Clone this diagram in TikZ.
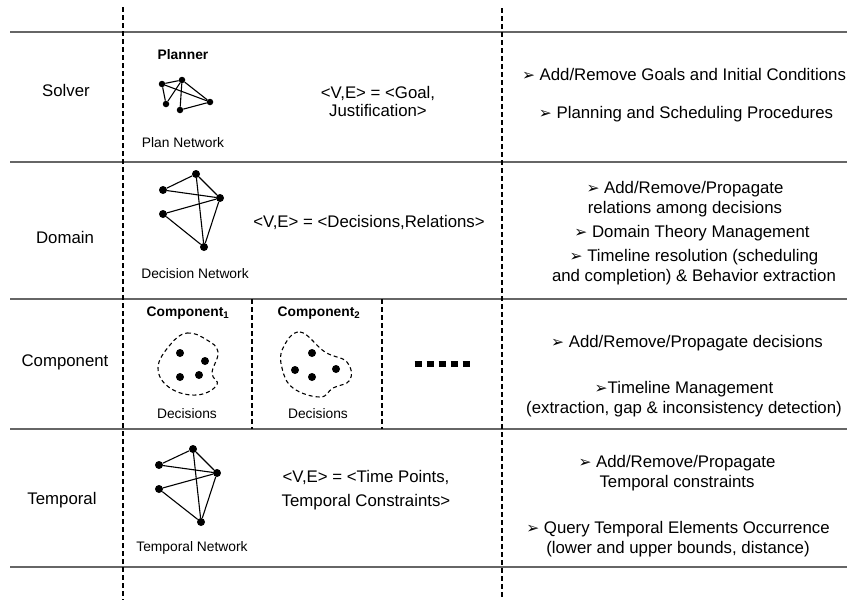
\documentclass[tikz,border=0pt]{standalone}
\usepackage{fontspec}
\setmainfont{Liberation Sans}
\newfontfamily\dejavu{DejaVu Sans}
\newcommand{\arrbullet}{{\dejavu\fontsize{15.5}{15.5}\selectfont\symbol{"27A2}}}

\begin{document}
\begin{tikzpicture}[x=1pt, y=-1pt,
  txt/.style={font=\fontsize{16.8}{20.5}\selectfont, align=center, inner sep=0pt},
  small/.style={font=\fontsize{13.8}{16}\selectfont, inner sep=0pt},
  ttl/.style={font=\bfseries\fontsize{13.8}{16}\selectfont, inner sep=0pt},
  dot/.style={circle, fill=black, inner sep=0pt, minimum size=8pt},
  edge/.style={line width=1.1pt},
  rowline/.style={draw=black!60, line width=1.6pt},
  colline/.style={dash pattern=on 5pt off 3pt, line width=1.1pt},
  blob/.style={dash pattern=on 4pt off 3pt, line width=1.1pt}]
\useasboundingbox (0,0) rectangle (847,600);

% table rules
\foreach \y in {32,162,299,429,567}
  \draw[rowline] (10,\y) -- (847,\y);
\draw[colline] (123,7) -- (123,600);
\draw[colline] (502,8) -- (502,600);
\draw[colline] (252,299) -- (252,429);
\draw[colline] (382,299) -- (382,429);

% layer names
\node[txt] (solver) at (66,90) {Solver};
\node[txt] (domain) at (65,237) {Domain};
\node[txt] (component) at (65,362) {Component};
\node[txt] (temporal) at (62,500) {Temporal};

% solver layer
\node[ttl] (planner) at (183,55) {Planner};
\node[dot, minimum size=6.5pt] (p1) at (162,84) {};
\node[dot, minimum size=6.5pt] (p2) at (182,80) {};
\node[dot, minimum size=6.5pt] (p3) at (210,102) {};
\node[dot, minimum size=6.5pt] (p4) at (166,104) {};
\node[dot, minimum size=6.5pt] (p5) at (180,110) {};
\foreach \a/\b in {p1/p2, p1/p3, p2/p3, p1/p4, p4/p2, p2/p5, p5/p3}
  \draw[edge] (\a) -- (\b);
\node[small] (plannet) at (183,143) {Plan Network};
\node[txt, font=\fontsize{16.8}{18}\selectfont] (goal) at (378,101) {<V,E> = <Goal,\\ Justification>};
\node[txt] (addgoals) at (684,74) {\arrbullet\ Add/Remove Goals and Initial Conditions};
\node[txt] (planning) at (686,114) {\arrbullet\ Planning and Scheduling Procedures};

% domain layer
\node[dot] (d1) at (196,174) {};
\node[dot] (d2) at (163,190) {};
\node[dot] (d3) at (220,198) {};
\node[dot] (d4) at (163,214) {};
\node[dot] (d5) at (204,247) {};
\foreach \a/\b in {d2/d1, d2/d3, d1/d3, d1/d5, d4/d3, d4/d5, d3/d5}
  \draw[edge] (\a) -- (\b);
\node[small] (decnet) at (195,274) {Decision Network};
\node[txt] (relations) at (369,222) {<V,E> = <Decisions,Relations>};
\node[txt] (propagate) at (685,199) {\arrbullet\ Add/Remove/Propagate\\ relations among decisions};
\node[txt] (theory) at (692,233) {\arrbullet\ Domain Theory Management};
\node[txt] (resolution) at (694,267) {\arrbullet\ Timeline resolution (scheduling\\ and completion) \& Behavior extraction};

% component layer
\node[ttl] (comp1) at (188,313) {Component\textsubscript{1}};
\node[ttl] (comp2) at (319,313) {Component\textsubscript{2}};
\draw[blob] plot[smooth cycle, tension=0.7] coordinates {(170,345) (187,333) (207,340) (218,352) (212,373) (217,385) (197,395) (170,388) (158,368)};
\draw[blob] plot[smooth cycle, tension=0.7] coordinates {(283,348) (300,332) (325,352) (347,362) (350,380) (333,388) (320,397) (293,388) (282,368)};
\node[dot] (c1) at (180,353) {};
\node[dot] (c2) at (205,361) {};
\node[dot] (c3) at (180,377) {};
\node[dot] (c4) at (199,375) {};
\node[dot] (c5) at (312,353) {};
\node[dot] (c6) at (295,370) {};
\node[dot] (c7) at (312,377) {};
\node[dot] (c8) at (336,369) {};
\node[small] (dec1) at (187,414) {Decisions};
\node[small] (dec2) at (318,414) {Decisions};
\draw[line width=6.5pt, dash pattern=on 7pt off 5pt] (414.5,364) -- (472,364);
\node[txt] (propdec) at (687,343) {\arrbullet\ Add/Remove/Propagate decisions};
\node[txt] (timeline) at (684,399) {\arrbullet Timeline Management\\ (extraction, gap \& inconsistency detection)};

% temporal layer
\node[dot] (t1) at (193,449) {};
\node[dot] (t2) at (159,465) {};
\node[dot] (t3) at (217,473) {};
\node[dot] (t4) at (159,489) {};
\node[dot] (t5) at (201,522) {};
\foreach \a/\b in {t2/t1, t2/t3, t1/t3, t1/t5, t4/t3, t4/t5, t3/t5}
  \draw[edge] (\a) -- (\b);
\node[small] (tempnet) at (192,548) {Temporal Network};
\node[txt, font=\fontsize{16.8}{24}\selectfont] (timepts) at (366,490) {<V,E> = <Time Points,\\ Temporal Constraints>};
\node[txt] (propconst) at (677,473) {\arrbullet\ Add/Remove/Propagate\\ Temporal constraints};
\node[txt] (query) at (678,539) {\arrbullet\ Query Temporal Elements Occurrence\\ (lower and upper bounds, distance)};
\end{tikzpicture}
\end{document}
